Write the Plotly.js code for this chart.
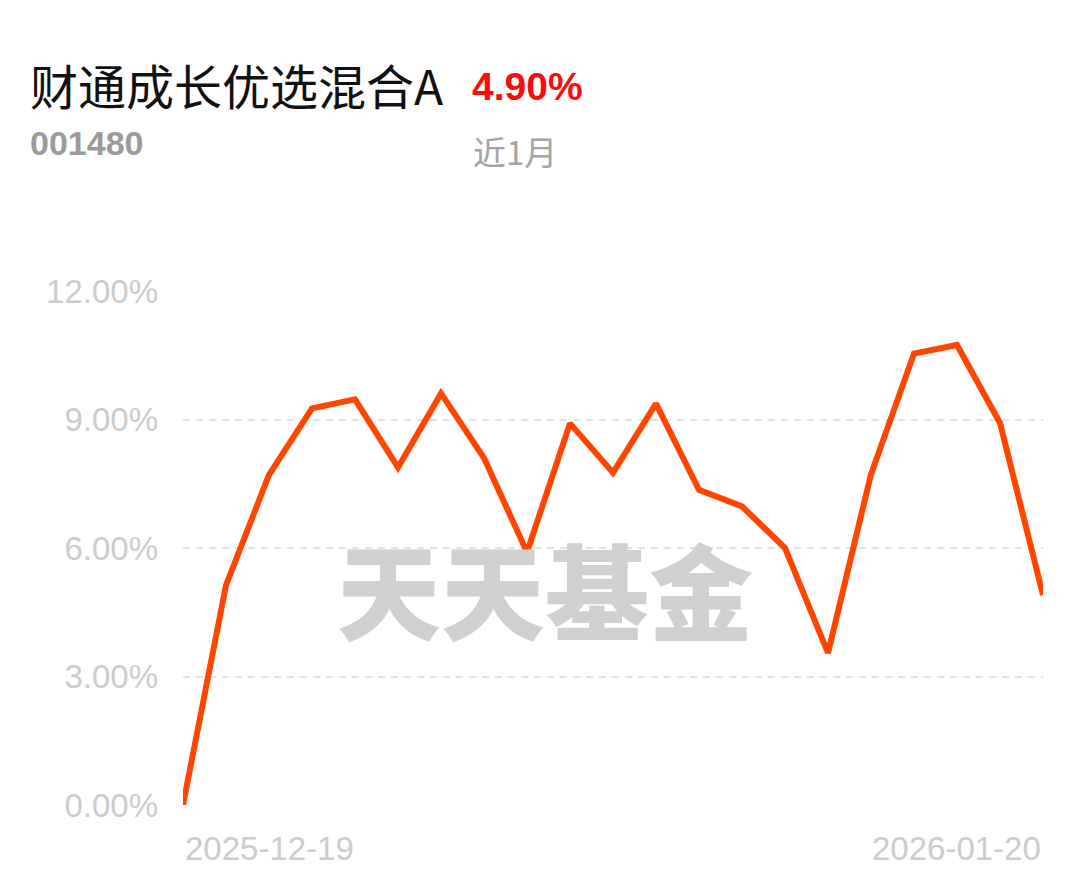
<!DOCTYPE html>
<html>
<head>
<meta charset="utf-8">
<script src="https://cdn.plot.ly/plotly-3.0.1.min.js"></script>
<style>
  html, body { margin: 0; padding: 0; background: #ffffff; }
  #chart { width: 1089px; height: 881px; }
</style>
</head>
<body>
<div id="chart"></div>
<script>
// Fund identity and headline return
const fundName = '财通成长优选混合A';
const fundCode = '001480';
const periodLabel = '近1月';
const periodReturn = 4.90;

// Trading days covered by the period
const dates = [
  '2025-12-19', '2025-12-22', '2025-12-23', '2025-12-24', '2025-12-25',
  '2025-12-26', '2025-12-29', '2025-12-30', '2025-12-31', '2026-01-05',
  '2026-01-06', '2026-01-07', '2026-01-08', '2026-01-09', '2026-01-12',
  '2026-01-13', '2026-01-14', '2026-01-15', '2026-01-16', '2026-01-19',
  '2026-01-20'
];

// Cumulative return (%) since the first day
const cumReturn = [
  0.00, 5.13, 7.71, 9.26, 9.47, 7.88, 9.61, 8.10, 5.90, 8.91,
  7.76, 9.37, 7.36, 6.97, 6.00, 3.55, 7.72, 10.54, 10.74, 8.92,
  4.90
];

// Y axis ticks
const yTicks = [0, 3, 6, 9, 12];
const yTickText = yTicks.map(v => v.toFixed(2) + '%');

// X axis shows only the first and last date
const xEdgeLabels = [dates[0], dates[dates.length - 1]];

const watermark = '天天基金';

// ---- layout geometry (pixels) ----
const W = 1089, H = 881;
const plotL = 183, plotR = 1043, plotT = 291, plotB = 805;
const px = x => (x - plotL) / (plotR - plotL);
const py = y => (plotB - y) / (plotB - plotT);

const line = {
  x: dates,
  y: cumReturn,
  type: 'scatter',
  mode: 'lines',
  line: { color: '#ff4500', width: 6, shape: 'linear' },
  cliponaxis: false,
  hoverinfo: 'skip'
};

const latinFont = '"Liberation Sans", Arial, Helvetica, sans-serif';
const cjkFont = '"Noto Sans CJK SC", "Noto Sans", sans-serif';

const annotations = [
  {
    text: fundName, xref: 'paper', yref: 'paper',
    x: px(28), y: py(84), xanchor: 'left', yanchor: 'middle', showarrow: false,
    font: { family: cjkFont, size: 48, color: '#111111' }
  },
  {
    text: periodReturn.toFixed(2) + '%', xref: 'paper', yref: 'paper',
    x: px(470), y: py(86), xanchor: 'left', yanchor: 'middle', showarrow: false,
    font: { family: latinFont, size: 39, color: '#ff0a0a', weight: 'bold' }
  },
  {
    text: fundCode, xref: 'paper', yref: 'paper',
    x: px(28), y: py(143), xanchor: 'left', yanchor: 'middle', showarrow: false,
    font: { family: latinFont, size: 34, color: '#9b9b9b', weight: 'bold' }
  },
  {
    text: periodLabel, xref: 'paper', yref: 'paper',
    x: px(471), y: py(151), xanchor: 'left', yanchor: 'middle', showarrow: false,
    font: { family: cjkFont, size: 33, color: '#a3a3a3' }
  },
  {
    text: watermark, xref: 'paper', yref: 'paper',
    x: px(545), y: py(587), xanchor: 'center', yanchor: 'middle', showarrow: false,
    font: { family: cjkFont, size: 104, color: '#d0d0d0', weight: 900 }
  },
  {
    text: xEdgeLabels[0], xref: 'x', yref: 'paper',
    x: xEdgeLabels[0], y: py(848), xanchor: 'left', yanchor: 'middle', showarrow: false,
    font: { family: latinFont, size: 33, color: '#cccccc' }
  },
  {
    text: xEdgeLabels[1], xref: 'x', yref: 'paper',
    x: xEdgeLabels[1], y: py(848), xanchor: 'right', yanchor: 'middle', showarrow: false,
    font: { family: latinFont, size: 33, color: '#cccccc' }
  }
];

const layout = {
  width: W, height: H,
  paper_bgcolor: '#ffffff', plot_bgcolor: '#ffffff',
  margin: { l: plotL, r: W - plotR, t: plotT, b: H - plotB, pad: 0 },
  showlegend: false,
  xaxis: {
    type: 'category',
    range: [0, dates.length - 1],
    showgrid: false, zeroline: false, showline: false,
    showticklabels: false, ticks: '', fixedrange: true
  },
  yaxis: {
    range: [0, 12],
    tickmode: 'array', tickvals: yTicks, ticktext: yTickText,
    showgrid: true, gridcolor: '#e3e3e3', gridwidth: 2, griddash: '7px,6px',
    zeroline: false, showline: false, ticks: '',
    ticklabelstandoff: 24,
    tickfont: { family: latinFont, size: 33, color: '#cccccc' },
    fixedrange: true
  },
  annotations: annotations
};

Plotly.newPlot('chart', [line], layout, { displayModeBar: false, staticPlot: true });
</script>
</body>
</html>
